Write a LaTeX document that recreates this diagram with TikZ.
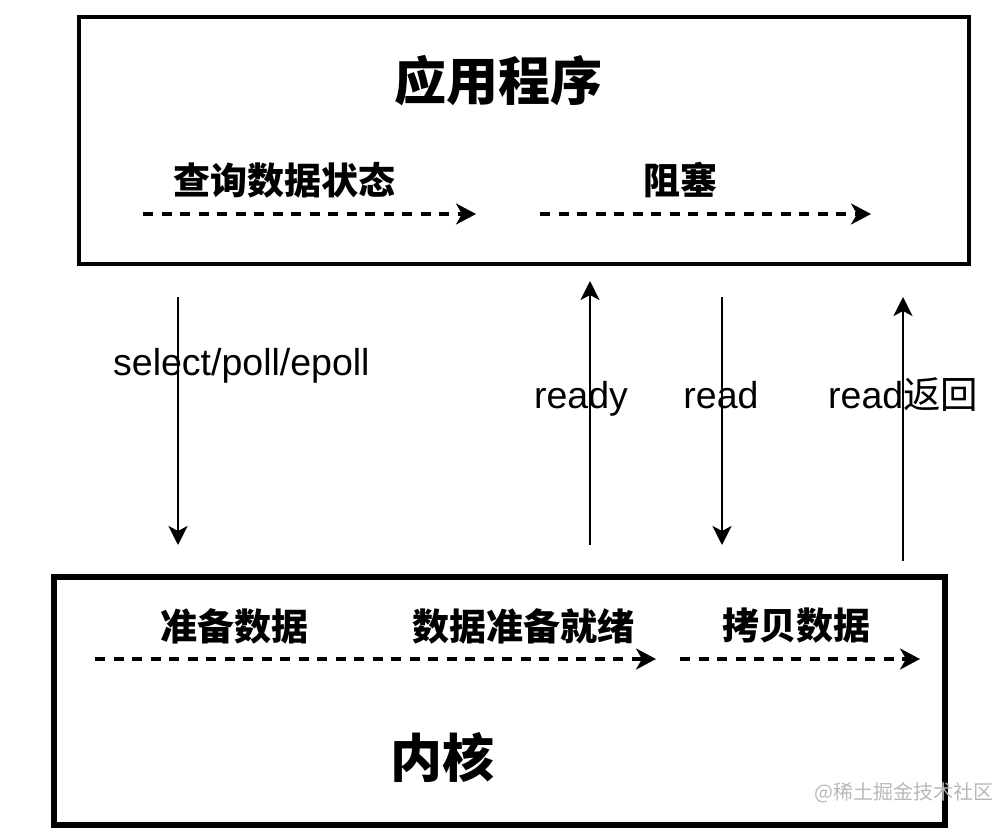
\documentclass[tikz,border=0pt]{standalone}
\usepackage{fontspec}
\setmainfont{Liberation Sans}
\newfontfamily\cjk{Noto Sans CJK SC}
\usetikzlibrary{arrows.meta}
\tikzset{
  box/.style={draw=black, line width=4.5pt},
  dasharrow/.style={line width=3.2pt, dash pattern=on 10pt off 8.5pt, -{Stealth[length=20pt,width=21pt,inset=6pt]}},
  solidarrow/.style={line width=2.6pt, -{Stealth[length=19pt,width=19pt,inset=5pt]}},
  title/.style={font=\cjk\bfseries\fontsize{52}{60}\selectfont, inner sep=0pt},
  sub/.style={font=\cjk\bfseries\fontsize{37}{44}\selectfont, inner sep=0pt},
  lab/.style={font=\fontsize{37.5}{44}\selectfont, inner sep=0pt, fill=none},
}
\begin{document}
\begin{tikzpicture}[x=1pt,y=-1pt]
\useasboundingbox (0,0) rectangle (997,832);
% boxes
\draw[box] (79,17) rectangle (969,264);
\draw[box, line width=5.5pt] (54,577) rectangle (945,825);
% titles
\node[title] (app) at (498,81) {应用程序};
\node[title] (kern) at (442,757) {内核};
% top sub labels
\node[sub] (q) at (284,180) {查询数据状态};
\node[sub] (blk) at (680,180) {阻塞};
\coordinate (qa1) at (143,214); \coordinate (qa2) at (476,214);
\coordinate (ba1) at (540,214); \coordinate (ba2) at (871,214);
\draw[dasharrow] (qa1) -- (qa2);
\draw[dasharrow] (ba1) -- (ba2);
% bottom sub labels
\node[sub] (prep) at (234,626) {准备数据};
\node[sub] (ready) at (523,626) {数据准备就绪};
\node[sub] (copy) at (796,626) {拷贝数据};
\coordinate (pa1) at (95,659); \coordinate (pa2) at (656,659);
\coordinate (ca1) at (680,659); \coordinate (ca2) at (920,659);
\draw[dasharrow] (pa1) -- (pa2);
\draw[dasharrow] (ca1) -- (ca2);
% vertical arrows
\coordinate (s1) at (178,297); \coordinate (s2) at (178,545);
\coordinate (r1) at (590,545); \coordinate (r2) at (590,281);
\coordinate (d1) at (722,297); \coordinate (d2) at (722,545);
\coordinate (b1) at (903,561); \coordinate (b2) at (903,297);
\draw[solidarrow] (s1) -- (s2);
\draw[solidarrow] (r1) -- (r2);
\draw[solidarrow] (d1) -- (d2);
\draw[solidarrow] (b1) -- (b2);
% labels
\node[lab, anchor=base west] (sl) at (113,375) {select/poll/epoll};
\node[lab, anchor=base] (rl) at (581,408) {ready};
\node[lab, anchor=base] (dl) at (721,408) {read};
\node[lab, anchor=base west] (bl) at (828,408) {read{\cjk 返回}};
% watermark
\node[font=\cjk\fontsize{20}{24}\selectfont, text=black!28, anchor=east, inner sep=0pt] (wm) at (994,793) {@稀土掘金技术社区};
\end{tikzpicture}
\end{document}
